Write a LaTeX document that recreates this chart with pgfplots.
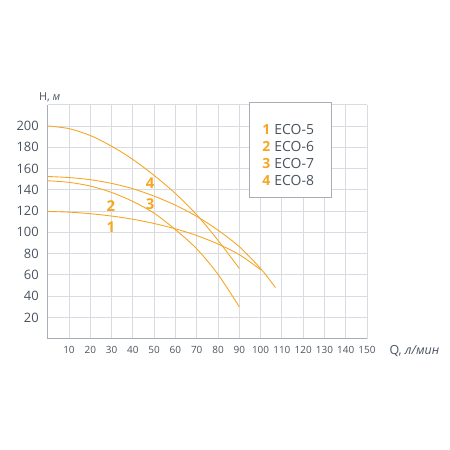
\documentclass[border=0pt]{standalone}
\usepackage{fontspec}
\setmainfont{Open Sans}
\usepackage{pgfplots}
\pgfplotsset{compat=1.18}
\definecolor{cur}{RGB}{246,166,35}
\definecolor{txt}{RGB}{74,84,96}
\definecolor{gridc}{RGB}{216,220,226}
\definecolor{axc}{RGB}{168,174,182}
\begin{document}
\begin{tikzpicture}[x=1bp,y=1bp]
\path[use as bounding box] (0,0) rectangle (450,450);
\begin{axis}[
  at={(47.7bp,111.3bp)}, anchor=south west,
  scale only axis, width=319.3bp, height=234bp,
  xmin=0, xmax=150, ymin=0, ymax=220,
  axis x line=bottom, axis y line=left,
  axis line style={-, draw=axc, line width=1.2pt},
  grid=major, grid style={draw=gridc, line width=0.8pt},
  xtick={10,20,...,150}, ytick={20,40,...,200},
  extra y ticks={220}, extra y tick labels={}, extra y tick style={grid=major},
  major tick length=0pt,
  /pgf/number format/assume math mode=true,
  xticklabel style={font=\fontsize{10}{12}\selectfont, text=txt, anchor=center, inner sep=0pt, yshift=-11.6bp},
  yticklabel style={font=\fontsize{13}{15}\selectfont, text=txt, anchor=east, inner sep=0pt, xshift=-8.7bp},
  clip=false,
]
% ECO-5
\addplot[cur, line width=0.9pt, smooth] coordinates {(0,119.6) (10,119) (20,117.5) (30,115.3) (40,112.3) (50,108.3) (60,103.3) (70,97) (80,89) (90,79) (100,65)};
% ECO-6
\addplot[cur, line width=0.9pt, smooth] coordinates {(0,148.5) (10,147) (20,143.5) (30,137.5) (40,129) (50,118) (60,102.5) (70,84.5) (80,60.5) (90,30)};
% ECO-7
\addplot[cur, line width=0.9pt, smooth] coordinates {(0,152.5) (10,151.5) (20,149.5) (30,146) (40,141) (50,134) (60,125.5) (70,115) (80,102) (90,86.5) (100,66) (107,48)};
% ECO-8
\addplot[cur, line width=0.9pt, smooth] coordinates {(0,200) (10,197.5) (20,191) (30,181) (40,168.5) (50,153.5) (60,136.5) (70,116.5) (80,92.5) (90,66)};
% curve numbers
\node[text=cur, font=\fontsize{15}{17}\selectfont\bfseries, inner sep=0pt] at (axis cs:29.7,105.3) {1};
\node[text=cur, font=\fontsize{15}{17}\selectfont\bfseries, inner sep=0pt] at (axis cs:29.7,125) {2};
\node[text=cur, font=\fontsize{15}{17}\selectfont\bfseries, inner sep=0pt] at (axis cs:48.1,126.4) {3};
\node[text=cur, font=\fontsize{15}{17}\selectfont\bfseries, inner sep=0pt] at (axis cs:48.1,146.1) {4};
% legend box
\draw[axc, line width=1pt, fill=white] (axis cs:94.6,133.2) rectangle (axis cs:133.4,221.6);
\node[anchor=west, inner sep=0pt, text=txt, font=\fontsize{14}{16}\selectfont] at (axis cs:100.8,196.9) {\textcolor{cur}{\bfseries 1}\hspace{4bp}ECO-5};
\node[anchor=west, inner sep=0pt, text=txt, font=\fontsize{14}{16}\selectfont] at (axis cs:100.8,180.5) {\textcolor{cur}{\bfseries 2}\hspace{4bp}ECO-6};
\node[anchor=west, inner sep=0pt, text=txt, font=\fontsize{14}{16}\selectfont] at (axis cs:100.8,164.9) {\textcolor{cur}{\bfseries 3}\hspace{4bp}ECO-7};
\node[anchor=west, inner sep=0pt, text=txt, font=\fontsize{14}{16}\selectfont] at (axis cs:100.8,148.6) {\textcolor{cur}{\bfseries 4}\hspace{4bp}ECO-8};
\end{axis}
\node[text=txt, font=\fontsize{11}{13}\selectfont, inner sep=0pt] at (49.7,352.7) {H, \textit{м}};
\node[text=txt, font=\fontsize{12.5}{14}\selectfont, anchor=west, inner sep=0pt] at (389.3,99.3) {Q, \textit{л/мин}};
\end{tikzpicture}
\end{document}
